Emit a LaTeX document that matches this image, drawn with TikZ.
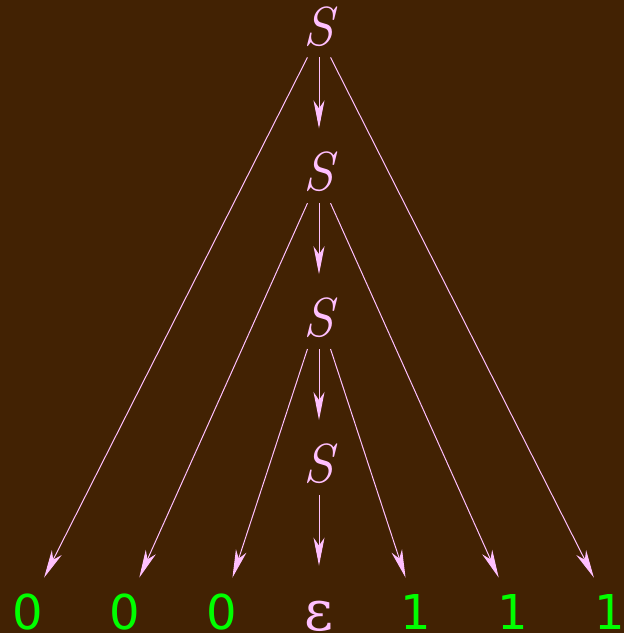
\documentclass[tikz,border=0pt]{standalone}
\usepackage{fontspec}
\usepackage{tikz}
\usetikzlibrary{arrows.meta, positioning}
\newfontfamily\digitfont{DejaVu Sans}
\newfontfamily\epsfont{DejaVu Serif}
\definecolor{treebrown}{RGB}{66, 34, 3}
\definecolor{treepink}{RGB}{255, 192, 255}
\definecolor{treegreen}{RGB}{0, 255, 0}

\begin{document}
\begin{tikzpicture}[
    x=0.5pt, y=-0.5pt,
    node distance=35.5pt,
    nonterm/.style={text=treepink, font=\fontsize{27.5}{30}\selectfont\itshape, inner xsep=-2pt, inner ysep=6pt, text height=25pt, text depth=0pt},
    terminal/.style={text=treegreen, font=\fontsize{24}{28}\selectfont\digitfont, inner xsep=4pt, inner ysep=6pt, text height=19.5pt, text depth=0pt, anchor=base},
    epsnode/.style={text=treepink, font=\fontsize{28}{30}\selectfont\epsfont, inner xsep=4pt, inner ysep=6pt, text height=26pt, text depth=0pt, anchor=base},
    arrow/.style={-{Stealth[length=14pt, width=5.5pt, inset=4pt]}, draw=treepink, line width=0.5pt}
]

% Background
\fill[treebrown] (0,0) rectangle (624,633);
\useasboundingbox (0,0) rectangle (624,633);

% Nonterminals
\node[nonterm, anchor=base] (s1) at (319,45) {S};
\node[nonterm, below=of s1] (s2) {S};
\node[nonterm, below=of s2] (s3) {S};
\node[nonterm, below=of s3] (s4) {S};

% Terminals (bottom row)
\node[terminal] (t1) at (28,629) {0};
\node[terminal] (t2) at (125,629) {0};
\node[terminal] (t3) at (222,629) {0};
\node[epsnode] (eps) at (319,630) {ε};
\node[terminal] (t5) at (416,629) {1};
\node[terminal] (t6) at (513,629) {1};
\node[terminal] (t7) at (610,629) {1};

% Arrows down the spine
\draw[arrow] (s1) -- (s2);
\draw[arrow] (s2) -- (s3);
\draw[arrow] (s3) -- (s4);
\draw[arrow] (s4) -- (eps);

% Arrows to terminals
\draw[arrow] (s1.south west) -- (t1);
\draw[arrow] (s1.south east) -- (t7);
\draw[arrow] (s2.south west) -- (t2);
\draw[arrow] (s2.south east) -- (t6);
\draw[arrow] (s3.south west) -- (t3);
\draw[arrow] (s3.south east) -- (t5);

\end{tikzpicture}
\end{document}
